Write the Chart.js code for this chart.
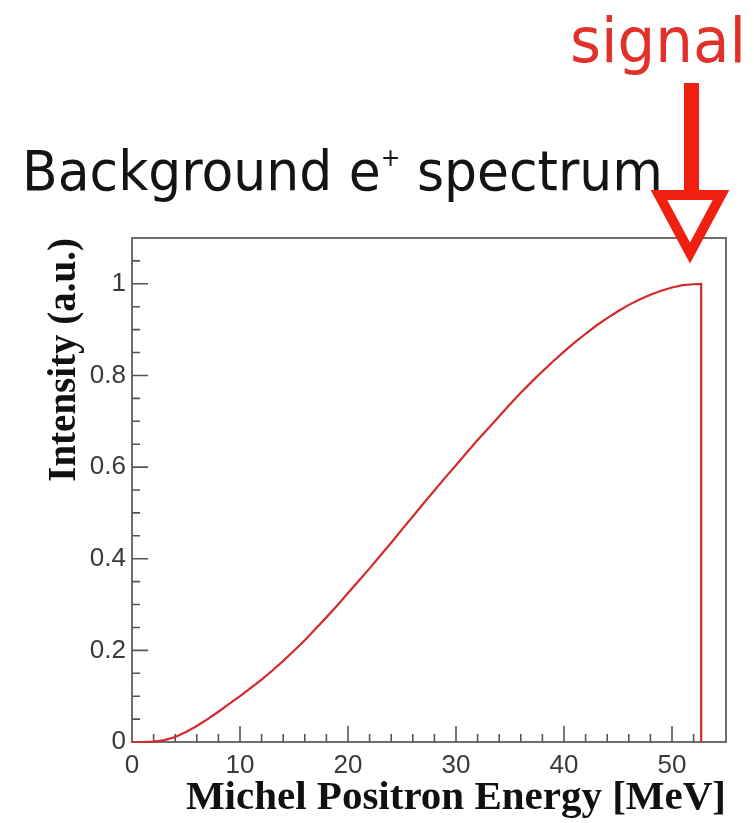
<!DOCTYPE html>
<html><head><meta charset="utf-8">
<script src="https://cdn.jsdelivr.net/npm/chart.js@4.4.1/dist/chart.umd.min.js"></script>
<style>
html,body{margin:0;padding:0;background:#fff;}
#wrap{position:relative;width:754px;height:823px;overflow:hidden;background:#fff;}
#c{position:absolute;left:0;top:0;}
.lbl{position:absolute;white-space:nowrap;font-family:"DejaVu Sans",sans-serif;line-height:1;transform-origin:0 0;}
#title{left:22px;top:143px;font-size:56px;color:#141414;}
#title sup{font-size:0.45em;vertical-align:0.95em;line-height:0;}
#signal{left:570px;top:9px;font-size:63px;color:#e2302b;}
#arrow{position:absolute;left:0;top:0;}
</style></head><body>
<div id="wrap">
<canvas id="c" width="754" height="823"></canvas>
<div class="lbl" id="title">Background e<sup>+</sup> spectrum</div>
<div class="lbl" id="signal">signal</div>
<svg id="arrow" width="754" height="823">
  <rect x="684" y="83" width="15" height="112" fill="#f02010"/>
  <polygon points="659,195 721,195 690,253" fill="#fff" stroke="#f02010" stroke-width="10" stroke-linejoin="miter"/>
</svg>
</div>
<script>
// ---- data ----
const energy = [0,1,2,3,4,5,6,7,8,9,10,11,12,13,14,15,16,17,18,19,20,21,22,23,24,25,26,27,28,29,30,31,32,33,34,35,36,37,38,39,40,41,42,43,44,45,46,47,48,49,50,51,52,52.7,52.7];
const intensity = [0,0,0.001,0.004,0.011,0.022,0.035,0.050,0.066,0.083,0.100,0.118,0.136,0.156,0.177,0.199,0.222,0.247,0.272,0.298,0.325,0.352,0.379,0.407,0.435,0.464,0.492,0.521,0.549,0.577,0.604,0.632,0.659,0.685,0.711,0.737,0.762,0.786,0.809,0.831,0.852,0.872,0.891,0.909,0.925,0.940,0.954,0.966,0.976,0.985,0.992,0.997,0.999,1.0,0];
const xTickLabels = ["0","10","20","30","40","50"];
const yTickLabels = ["0","0.2","0.4","0.6","0.8","1"];

const isMajorX = v => Math.abs(v/10 - Math.round(v/10)) < 1e-6;
const isMajorY = v => Math.abs(v/0.2 - Math.round(v/0.2)) < 1e-6;

const frameTicks = {
  id:'frameTicks',
  beforeDatasetsDraw(chart){
    const {ctx, chartArea:a, scales:{x,y}} = chart;
    ctx.save();
    ctx.strokeStyle='#6e6e6e'; ctx.lineWidth=2;
    ctx.strokeRect(a.left, a.top, a.right-a.left, a.bottom-a.top);
    ctx.strokeStyle='#555'; ctx.lineWidth=1.6;
    ctx.beginPath();
    x.ticks.forEach(t=>{
      if(t.value<=x.min || t.value>=x.max) return;
      const px = x.getPixelForValue(t.value);
      ctx.moveTo(px, a.bottom); ctx.lineTo(px, a.bottom-(isMajorX(t.value)?16:8));
    });
    y.ticks.forEach(t=>{
      if(t.value<=y.min || t.value>=y.max-1e-9) return;
      const py = y.getPixelForValue(t.value);
      ctx.moveTo(a.left, py); ctx.lineTo(a.left+(isMajorY(t.value)?16:8), py);
    });
    ctx.stroke();
    ctx.restore();
  }
};

new Chart(document.getElementById('c'), {
  type:'line',
  data:{datasets:[{
    data: energy.map((e,i)=>({x:e, y:intensity[i]})),
    borderColor:'#d42a2a', borderWidth:2.2, pointRadius:0, tension:0, fill:false, clip:false
  }]},
  options:{
    responsive:false, animation:false, devicePixelRatio:1,
    layout:{padding:{top:238,right:28,left:0,bottom:0}},
    plugins:{legend:{display:false}, tooltip:{enabled:false}},
    scales:{
      x:{type:'linear', min:0, max:55,
        grid:{display:false, drawTicks:false}, border:{display:false},
        ticks:{stepSize:2, autoSkip:false, maxRotation:0, padding:8,
          color:'#3a3a3a', font:{family:'"Liberation Sans", Arial, sans-serif', size:26},
          callback:v=>{ if(!isMajorX(v)) return ''; const s=String(Math.round(v)); return xTickLabels.includes(s)?s:''; }},
        title:{display:true, text:'Michel Positron Energy [MeV]', align:'end', color:'#111',
          font:{family:'"Liberation Serif", "Times New Roman", serif', size:41, weight:'bold'}, padding:{top:0,bottom:0}},
        afterFit:s=>{ s.height = 81; }
      },
      y:{type:'linear', min:0, max:1.1,
        grid:{display:false, drawTicks:false}, border:{display:false},
        ticks:{stepSize:0.05, autoSkip:false, padding:6,
          color:'#3a3a3a', font:{family:'"Liberation Sans", Arial, sans-serif', size:26},
          callback:v=>{ if(!isMajorY(v)) return ''; const s=String(Math.round(v*10)/10); return yTickLabels.includes(s)?s:''; }},
        title:{display:true, text:'Intensity (a.u.)', align:'end', color:'#111',
          font:{family:'"Liberation Serif", "Times New Roman", serif', size:39, weight:'bold'}, padding:{top:42,bottom:0}},
        afterFit:s=>{ s.width = 132; }
      }
    }
  },
  plugins:[frameTicks]
});

// fit overlay texts to the reference widths
function fitWidth(id, target){
  const el=document.getElementById(id);
  const w=el.getBoundingClientRect().width;
  if(w>0) el.style.transform='scaleX('+(target/w)+')';
}
fitWidth('title', 641);
fitWidth('signal', 176);
</script>
</body></html>
